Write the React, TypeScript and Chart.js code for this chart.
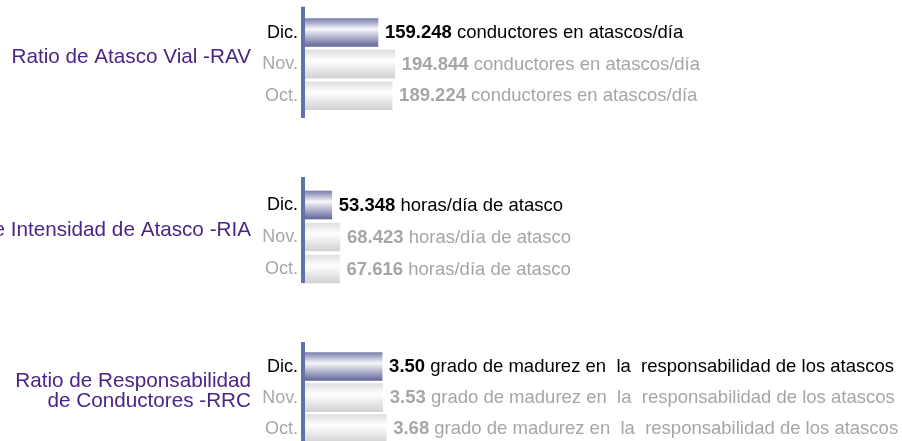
import React, { useEffect, useRef } from 'react';
import { Chart, registerables } from 'chart.js';

Chart.register(...registerables);

// ---- data ----
const months = ['Dic.', 'Nov.', 'Oct.'];
const ravValues = [159248, 194844, 189224];
const riaValues = [53348, 68423, 67616];
const rrcValues = [3.5, 3.53, 3.68];
const groupValues = [ravValues, riaValues, rrcValues];
const groupTitles = [
  ['Ratio de Atasco Vial -RAV'],
  ['Ratio de Intensidad de Atasco -RIA'],
  ['Ratio de Responsabilidad', 'de Conductores -RRC'],
];
const groupUnits = [
  'conductores en atascos/día',
  'horas/día de atasco',
  'grado de madurez en  la  responsabilidad de los atascos',
];
const groupDecimals = [0, 0, 2];
const axisMax = [1272000, 1110300, 26.5];

// ---- layout / style ----
const W = 902;
const H = 460;
const areaTop = [16.75, 189, 351];
const areaBottom = [111.5, 285, 447];
const axisExtTop = [10, 12, 9];
const axisExtBottom = [6.5, -2, 4];
const FONT = '"Liberation Sans", Arial, Helvetica, sans-serif';
const AXIS_COLOR = '#6470a8';
const TITLE_COLOR = '#4a2585';
const GREY = '#a6a6a6';

function fmt(v: number, dec: number): string {
  if (dec > 0) return v.toFixed(dec);
  const s = Math.round(v).toString();
  return s.replace(/\B(?=(\d{3})+(?!\d))/g, '.');
}

function makeConfig(g: number): any {
  const overlay = {
    id: 'overlay' + g,
    beforeDatasetsDraw(chart: any) {
      const ctx = chart.ctx;
      const meta = chart.getDatasetMeta(0);
      meta.data.forEach((bar: any, i: number) => {
        const yc = bar.y;
        const hh = (bar.height || 28) / 2;
        if (!isFinite(yc)) return;
        const gr = ctx.createLinearGradient(0, yc - hh, 0, yc + hh);
        if (i === 0) {
          gr.addColorStop(0, '#7a80ab');
          gr.addColorStop(0.38, '#f7f7fb');
          gr.addColorStop(1, '#62679a');
        } else {
          gr.addColorStop(0, '#dedede');
          gr.addColorStop(0.38, '#ffffff');
          gr.addColorStop(1, '#d2d2d2');
        }
        bar.options = Object.assign({}, bar.options, { backgroundColor: gr });
      });
    },
    afterDatasetsDraw(chart: any) {
      const ctx = chart.ctx;
      const area = chart.chartArea;
      const ys = chart.scales.y;
      // axis line
      ctx.save();
      ctx.fillStyle = AXIS_COLOR;
      const top = area.top - axisExtTop[g];
      const bottom = area.bottom + axisExtBottom[g];
      ctx.fillRect(area.left - 2, top, 4, bottom - top);
      ctx.restore();

      // value labels
      const meta = chart.getDatasetMeta(0);
      ctx.save();
      ctx.textBaseline = 'middle';
      ctx.textAlign = 'left';
      meta.data.forEach((bar: any, i: number) => {
        ctx.fillStyle = i === 0 ? '#000000' : GREY;
        const num = fmt(groupValues[g][i], groupDecimals[g]);
        ctx.font = 'bold 18.5px ' + FONT;
        const x = bar.x + 7;
        const y = bar.y + 0.5;
        ctx.fillText(num, x, y);
        const w = ctx.measureText(num).width;
        ctx.font = '18.5px ' + FONT;
        ctx.fillText(' ' + groupUnits[g], x + w, y);
      });
      ctx.restore();

      // group title
      ctx.save();
      ctx.fillStyle = TITLE_COLOR;
      ctx.font = '20.7px ' + FONT;
      ctx.textAlign = 'right';
      ctx.textBaseline = 'middle';
      const lines = groupTitles[g];
      const cy = ys.getPixelForValue(1) - 6.5;
      const lh = 20;
      lines.forEach((ln, k) => {
        ctx.fillText(ln, 251, cy + (k - (lines.length - 1) / 2) * lh);
      });
      ctx.restore();
    },
  };

  return {
    type: 'bar',
    data: {
      labels: months,
      datasets: [
        {
          data: groupValues[g],
          backgroundColor: '#dddddd',
          borderWidth: 0,
          barThickness: 28,
        },
      ],
    },
    options: {
      indexAxis: 'y',
      responsive: false,
      animation: false,
      layout: {
        padding: { left: 0, right: 0, top: areaTop[g], bottom: H - areaBottom[g] },
      },
      scales: {
        x: { display: false, min: 0, max: axisMax[g] },
        y: {
          afterFit: (s: any) => {
            s.width = 303;
          },
          grid: { display: false, drawTicks: false },
          border: { display: false },
          ticks: {
            padding: 5,
            color: (c: any) => (c.index === 0 ? '#000000' : '#a8a8a8'),
            font: { family: FONT, size: 18 },
          },
        },
      },
      plugins: {
        legend: { display: false },
        tooltip: { enabled: false },
      },
    },
    plugins: [overlay],
  };
}

export default function App() {
  const r0 = useRef<HTMLCanvasElement>(null);
  const r1 = useRef<HTMLCanvasElement>(null);
  const r2 = useRef<HTMLCanvasElement>(null);

  useEffect(() => {
    const refs = [r0, r1, r2];
    const charts = refs.map((r, g) => new Chart(r.current as HTMLCanvasElement, makeConfig(g)));
    return () => charts.forEach((c) => c.destroy());
  }, []);

  const cstyle: React.CSSProperties = { position: 'absolute', left: 0, top: 0, width: W, height: H };
  return (
    <div
      style={{
        position: 'absolute',
        left: 0,
        top: 0,
        width: 902,
        height: 441,
        overflow: 'hidden',
        background: '#ffffff',
      }}
    >
      <canvas ref={r0} width={W} height={H} style={cstyle} />
      <canvas ref={r1} width={W} height={H} style={cstyle} />
      <canvas ref={r2} width={W} height={H} style={cstyle} />
    </div>
  );
}
